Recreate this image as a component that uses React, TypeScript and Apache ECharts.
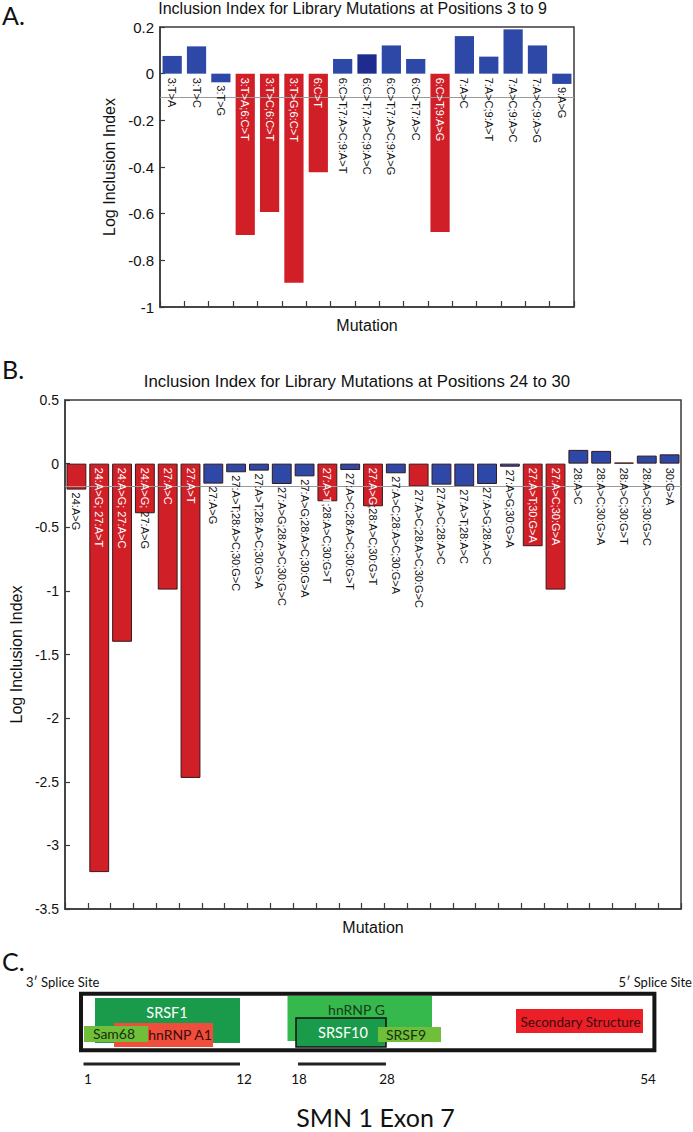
import React, { useEffect, useRef } from 'react';
import * as echarts from 'echarts';

// ---------- Data ----------
const titleA = 'Inclusion Index for Library Mutations at Positions 3 to 9';
const titleB = 'Inclusion Index for Library Mutations at Positions 24 to 30';
const yAxisName = 'Log Inclusion Index';
const xAxisName = 'Mutation';
const panelLetters = ['A.', 'B.', 'C.'];

const categoriesA = [
  '3:T>A', '3:T>C', '3:T>G', '3:T>A;6:C>T', '3:T>C;6:C>T', '3:T>G;6:C>T', '6:C>T',
  '6:C>T;7:A>C;9:A>T', '6:C>T;7:A>C;9:A>C', '6:C>T;7:A>C;9:A>G', '6:C>T;7:A>C',
  '6:C>T;9:A>G', '7:A>C', '7:A>C;9:A>T', '7:A>C;9:A>C', '7:A>C;9:A>G', '9:A>G',
];
const valuesA = [
  0.076, 0.117, -0.037, -0.691, -0.593, -0.896, -0.423,
  0.063, 0.083, 0.121, 0.063,
  -0.679, 0.161, 0.073, 0.19, 0.121, -0.044,
];
const significantA = [
  false, false, false, true, true, true, true,
  false, false, false, false,
  true, false, false, false, false, false,
];
const thresholdA = -0.1;

const categoriesB = [
  '24:A>G', '24:A>G; 27:A>T', '24:A>G; 27:A>C', '24:A>G; 27:A>G', '27:A>C', '27:A>T', '27:A>G',
  '27:A>T;28:A>C;30:G>C', '27:A>T;28:A>C;30:G>A', '27:A>G;28:A>C;30:G>C', '27:A>G;28:A>C;30:G>A',
  '27:A>T;28:A>C;30:G>T', '27:A>C;28:A>C;30:G>T', '27:A>G;28:A>C;30:G>T', '27:A>C;28:A>C;30:G>A',
  '27:A>C;28:A>C;30:G>C', '27:A>C;28:A>C', '27:A>T;28:A>C', '27:A>G;28:A>C', '27:A>G;30:G>A',
  '27:A>T;30:G>A', '27:A>C;30:G>A', '28:A>C', '28:A>C;30:G>A', '28:A>C;30:G>T', '28:A>C;30:G>C', '30:G>A',
];
const valuesB = [
  -0.204, -3.21, -1.40, -0.39, -0.99, -2.47, -0.157,
  -0.068, -0.055, -0.16, -0.10,
  -0.296, -0.05, -0.335, -0.076,
  -0.18, -0.165, -0.178, -0.16, -0.024,
  -0.649, -0.99, 0.108, 0.10, 0.008, 0.063, 0.073,
];
const significantB = [
  true, true, true, true, true, true, false,
  false, false, false, false,
  true, false, true, false,
  true, false, false, false, false,
  true, true, false, false, false, false, false,
];
const thresholdB = -0.18;

// Exon 7 diagram content
const spliceSites = ['3′ Splice Site', '5′ Splice Site'];
const factorNames = ['SRSF1', 'hnRNP A1', 'Sam68', 'hnRNP G', 'SRSF10', 'SRSF9', 'Secondary Structure'];
const positionLabels = ['1', '12', '18', '28', '54'];
const exonName = 'SMN 1 Exon 7';

// ---------- Helpers ----------
const SANS = '"Liberation Sans", Arial, Helvetica, sans-serif';
const MYRIAD = 'Lato, "Open Sans", sans-serif';
const RED = '#d11f27';
const BLUE = '#2d48a6';
const DARK_BLUE = '#1f2b8e';

let measureCtx: CanvasRenderingContext2D | null = null;
function textWidth(s: string, font: string): number {
  if (!measureCtx) measureCtx = document.createElement('canvas').getContext('2d');
  if (!measureCtx) return s.length * 6;
  measureCtx.font = font;
  return measureCtx.measureText(s).width;
}

function makeLabelRenderer(cats: string[], vals: number[], sig: boolean[], fontSize: number) {
  const font = `${fontSize}px ${SANS}`;
  return (params: any, api: any) => {
    const i = params.dataIndex;
    const v = vals[i];
    const zero = api.coord([i, 0]);
    const end = api.coord([i, v]);
    const x = zero[0];
    const label = cats[i];
    let white = '';
    let black = label;
    let y0: number;
    if (v >= 0) {
      y0 = zero[1] + 4;
    } else if (!sig[i]) {
      y0 = end[1] + 3;
    } else {
      const L = end[1] - zero[1];
      const segs = label.split(';');
      let k = 0;
      for (let n = segs.length; n >= 1; n--) {
        const part = segs.slice(0, n).join(';');
        if (textWidth(part, font) + 4 <= L + 3) { k = n; break; }
      }
      if (k === 0) {
        y0 = end[1] + 3;
      } else {
        y0 = zero[1] + 4;
        white = segs.slice(0, k).join(';');
        black = k < segs.length ? ';' + segs.slice(k).join(';') : '';
        if (k < segs.length && textWidth(white + ';', font) + 4 <= L + 1) {
          white = white + ';';
          black = black.slice(1);
        }
      }
    }
    const children: any[] = [];
    const ww = white ? textWidth(white, font) : 0;
    if (white) {
      children.push({
        type: 'text', x, y: y0, rotation: -Math.PI / 2,
        style: { text: white, fill: '#ffffff', font, align: 'left', verticalAlign: 'middle' },
      });
    }
    if (black) {
      children.push({
        type: 'text', x, y: y0 + ww, rotation: -Math.PI / 2,
        style: { text: black, fill: '#111111', font, align: 'left', verticalAlign: 'middle' },
      });
    }
    return { type: 'group', children };
  };
}

function rectEl(x1: number, y1: number, x2: number, y2: number, fill: string, extra: any = {}) {
  return {
    type: 'rect', shape: { x: x1, y: y1, width: x2 - x1, height: y2 - y1 },
    style: { fill, ...(extra.style || {}) }, z: extra.z ?? 1, silent: true,
  };
}
function textEl(text: string, x: number, y: number, size: number, fill: string, align = 'center', family = MYRIAD) {
  return {
    type: 'text', x, y, silent: true, z: 5,
    style: { text, fill, font: `${size}px ${family}`, align, verticalAlign: 'middle' },
  };
}

function buildOption() {
  const axisColor = '#3a3a3a';
  const makeX = (gridIndex: number, data: string[]) => ({
    type: 'category', gridIndex, data,
    axisLine: { show: true, onZero: false, lineStyle: { color: axisColor, width: 1.5 } },
    axisTick: { show: true, inside: true, length: 6, interval: 0, lineStyle: { color: axisColor, width: 1.2 } },
    axisLabel: { show: false },
    splitLine: { show: false },
    name: xAxisName, nameLocation: 'middle', nameGap: 10,
    nameTextStyle: { fontFamily: SANS, fontSize: 16, color: '#111', verticalAlign: 'top' },
  });
  const makeY = (gridIndex: number, min: number, max: number, interval: number, labelSize: number, nameGap: number) => ({
    type: 'value', gridIndex, min, max, interval,
    axisLine: { show: true, lineStyle: { color: axisColor, width: 1.5 } },
    axisTick: { show: true, inside: true, length: 5, lineStyle: { color: axisColor, width: 1.2 } },
    splitLine: { show: false },
    axisLabel: { fontFamily: SANS, fontSize: labelSize, color: '#111', margin: 6 },
    name: yAxisName, nameLocation: 'middle', nameGap, nameRotate: 90,
    nameTextStyle: { fontFamily: SANS, fontSize: 16, color: '#111' },
  });

  const barDataA = valuesA.map((v, i) => ({
    value: v,
    itemStyle: { color: significantA[i] ? RED : (i === 8 ? DARK_BLUE : BLUE) },
  }));
  const barDataB = valuesB.map((v, i) => ({
    value: v,
    itemStyle: { color: significantB[i] ? RED : BLUE },
  }));

  const refLine = (xi: number, y: number) => ({
    type: 'line', xAxisIndex: xi, yAxisIndex: xi, data: [], z: 1, silent: true,
    markLine: {
      silent: true, symbol: ['none', 'none'], label: { show: false },
      lineStyle: { color: '#9a9a9a', width: 1, type: 'solid' },
      data: [{ yAxis: y }],
    },
  });

  const graphic: any[] = [
    textEl(panelLetters[0], 2, 15, 25, '#111', 'left'),
    textEl(panelLetters[1], 2, 369, 25, '#111', 'left'),
    textEl(panelLetters[2], 2, 961, 25, '#111', 'left'),
    // Exon diagram
    textEl(spliceSites[0], 26, 982, 13, '#111', 'left'),
    textEl(spliceSites[1], 692, 982, 13, '#111', 'right'),
    rectEl(95, 998, 240, 1043, '#1a9a4b', { z: 1 }),
    rectEl(114, 1023, 213, 1047, '#f04e3c', { z: 2 }),
    rectEl(84, 1026, 148, 1042, '#6fbf3b', { z: 3 }),
    rectEl(287.5, 996, 432, 1041, '#35b94c', { z: 1 }),
    rectEl(296, 1018, 386, 1047, '#1a9a4b', { z: 2, style: { stroke: '#111', lineWidth: 1.5 } }),
    rectEl(378, 1027, 441, 1042, '#6fbf3b', { z: 3 }),
    rectEl(516, 1009, 643, 1033, '#ec1f28', { z: 1 }),
    textEl(factorNames[0], 167, 1012, 14.5, '#ffffff'),
    textEl(factorNames[1], 180, 1034, 14, '#3a0c0c'),
    textEl(factorNames[2], 114, 1033.5, 14, '#17300c'),
    textEl(factorNames[3], 356.5, 1009, 14, '#183a1c'),
    textEl(factorNames[4], 343, 1032.5, 14.5, '#ffffff'),
    textEl(factorNames[5], 406, 1034, 14, '#17300c'),
    textEl(factorNames[6], 580.5, 1022, 13.5, '#3a0c0c'),
    {
      type: 'rect', silent: true, z: 6,
      shape: { x: 81, y: 993.7, width: 573.4, height: 56.6 },
      style: { fill: 'none', stroke: '#151515', lineWidth: 4 },
    },
    { type: 'line', silent: true, z: 6, shape: { x1: 83.5, y1: 1064, x2: 240, y2: 1064 }, style: { stroke: '#222', lineWidth: 3 } },
    { type: 'line', silent: true, z: 6, shape: { x1: 298, y1: 1064, x2: 386, y2: 1064 }, style: { stroke: '#222', lineWidth: 3 } },
    textEl(positionLabels[0], 88, 1079, 13.5, '#111'),
    textEl(positionLabels[1], 244, 1079, 13.5, '#111'),
    textEl(positionLabels[2], 299, 1079, 13.5, '#111'),
    textEl(positionLabels[3], 387, 1079, 13.5, '#111'),
    textEl(positionLabels[4], 648, 1079, 13.5, '#111'),
    textEl(exonName, 375.5, 1117, 25, '#111'),
    // Chart titles
    textEl(titleA, 352.6, 8.5, 16, '#111', 'center', SANS),
    textEl(titleB, 357, 381.5, 16.8, '#111', 'center', SANS),
  ];

  return {
    animation: false,
    backgroundColor: '#ffffff',
    grid: [
      { left: 160, top: 27, width: 414, height: 280, show: true, borderColor: axisColor, borderWidth: 1.5, backgroundColor: 'transparent' },
      { left: 63.5, top: 400, width: 617.5, height: 509, show: true, borderColor: axisColor, borderWidth: 1.5, backgroundColor: 'transparent' },
    ],
    xAxis: [makeX(0, categoriesA), makeX(1, categoriesB)],
    yAxis: [makeY(0, -1, 0.2, 0.2, 15, 34), makeY(1, -3.5, 0.5, 0.5, 14, 36)],
    series: [
      refLine(0, thresholdA),
      refLine(1, thresholdB),
      {
        type: 'bar', xAxisIndex: 0, yAxisIndex: 0, data: barDataA, z: 2,
        barCategoryGap: '21%', silent: true,
      },
      {
        type: 'bar', xAxisIndex: 1, yAxisIndex: 1, data: barDataB, z: 2,
        barCategoryGap: '13%', silent: true,
        itemStyle: { borderColor: '#3a1818', borderWidth: 1 },
      },
      {
        type: 'custom', xAxisIndex: 0, yAxisIndex: 0, z: 10, silent: true,
        data: valuesA.map((v, i) => [i, v]), encode: { x: 0, y: 1 },
        renderItem: makeLabelRenderer(categoriesA, valuesA, significantA, 11),
      },
      {
        type: 'custom', xAxisIndex: 1, yAxisIndex: 1, z: 10, silent: true,
        data: valuesB.map((v, i) => [i, v]), encode: { x: 0, y: 1 },
        renderItem: makeLabelRenderer(categoriesB, valuesB, significantB, 11),
      },
    ],
    graphic,
  };
}

export default function App() {
  const ref = useRef<HTMLDivElement>(null);
  useEffect(() => {
    if (!ref.current) return;
    const chart = echarts.init(ref.current, undefined, { renderer: 'svg' });
    chart.setOption(buildOption() as any);
    return () => chart.dispose();
  }, []);
  return (
    <div
      ref={ref}
      style={{ position: 'absolute', left: 0, top: 0, width: 693, height: 1132, background: '#fff' }}
    />
  );
}
